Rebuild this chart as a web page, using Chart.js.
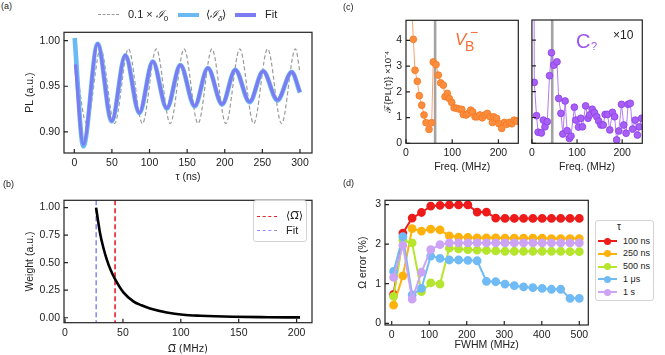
<!DOCTYPE html>
<html lang="en">
<head>
<meta charset="UTF-8">
<title>PL oscillations and spectra</title>
<script src="https://cdn.jsdelivr.net/npm/chart.js"></script>
<style>
    body { margin: 0; background: #fff; font-family: 'Liberation Sans', Arial, sans-serif; color: #222; }
    #fig { position: relative; width: 665px; height: 355px; overflow: hidden; }
    #fig canvas { position: absolute; }
    .txt { position: absolute; white-space: nowrap; line-height: 1; }
    .sw { position: absolute; height: 0; }
    .box { position: absolute; border: 1px solid #d4d4d4; border-radius: 3px; background: rgba(255,255,255,0.85); }
    .dot { position: absolute; width: 7px; height: 7px; border-radius: 50%; }
</style>
</head>
<body>
<div id="fig">
    <canvas id="chartA"></canvas>
    <canvas id="chartB"></canvas>
    <canvas id="chartC1"></canvas>
    <canvas id="chartC2"></canvas>
    <canvas id="chartD"></canvas>

    <!-- panel letters -->
    <div class="txt" style="left:1px;top:2px;font-size:9px">(a)</div>
    <div class="txt" style="left:3px;top:180px;font-size:9px">(b)</div>
    <div class="txt" style="left:343px;top:3px;font-size:9px">(c)</div>
    <div class="txt" style="left:343px;top:179px;font-size:9px">(d)</div>

    <!-- legend (a) -->
    <div class="sw" style="left:98px;top:14px;width:21px;border-top:1.4px dashed #9a9a9a"></div>
    <div class="txt" style="left:128px;top:9px;font-size:11px">0.1 × <i>ℐ</i><sub style="font-size:8px">0</sub></div>
    <div class="sw" style="left:178px;top:13px;width:21px;border-top:4px solid #69b9f4"></div>
    <div class="txt" style="left:206px;top:9px;font-size:11px">⟨<i>ℐ</i><sub style="font-size:8px"><i>δ</i></sub>⟩</div>
    <div class="sw" style="left:235px;top:13px;width:21px;border-top:4px solid #7d7bf2"></div>
    <div class="txt" style="left:265px;top:9px;font-size:11px">Fit</div>

    <!-- legend (b) -->
    <div class="box" style="left:253px;top:200px;width:52px;height:40px"></div>
    <div class="sw" style="left:257px;top:216px;width:20px;border-top:1.6px dashed #e8202a"></div>
    <div class="txt" style="left:286px;top:210px;font-size:11px;font-family:'DejaVu Sans'">⟨Ω&#773;⟩</div>
    <div class="sw" style="left:257px;top:230px;width:20px;border-top:1.6px dashed #8d8dfb"></div>
    <div class="txt" style="left:286px;top:225px;font-size:11px">Fit</div>

    <!-- labels (c) -->
    <div class="txt" style="left:455px;top:31px;font-size:17px;font-style:italic;color:#f2703a">V</div>
    <div class="txt" style="left:465px;top:39px;font-size:14px;color:#f2703a">B</div>
    <div class="txt" style="left:470px;top:25px;font-size:14px;color:#f2703a">−</div>
    <div class="txt" style="left:576px;top:31px;font-size:20px;color:#9d55ef">C</div>
    <div class="txt" style="left:591px;top:41px;font-size:11px;color:#9d55ef">?</div>
    <div class="txt" style="left:613px;top:29px;font-size:12px">×10</div>

    <!-- legend (d) -->
    <div class="box" style="left:595px;top:220px;width:57px;height:79px"></div>
    <div class="txt" style="left:617px;top:222px;font-size:10px">τ</div>
    <div id="legD"></div>
</div>

<script>
    // (a) PL versus tau: extrema
    const tauRef = [0, 16.5, 35, 53.5, 72, 90.5, 109, 127.5, 146, 164.5, 183, 201.5, 220, 238.5, 257, 275.5, 294, 300];
    const plRef = [0.990, 0.909, 0.991, 0.909, 0.991, 0.909, 0.991, 0.909, 0.991, 0.909, 0.991, 0.909, 0.991, 0.909, 0.991, 0.909, 0.991, 0.965];
    const tauAvg = [0.5, 12, 31, 49.7, 67.8, 86.5, 104.3, 123, 141, 160, 177.5, 196.5, 214, 233, 251, 270, 289, 300];
    const plAvg = [1.003, 0.884, 0.9965, 0.9115, 0.984, 0.9205, 0.977, 0.9255, 0.9732, 0.928, 0.970, 0.930, 0.968, 0.9325, 0.9665, 0.9345, 0.9655, 0.943];
    const tauFit = [1.5, 12, 31, 49.7, 67.8, 86.5, 104.3, 123, 141, 160, 177.5, 196.5, 214, 233, 251, 270, 289, 300];
    const plFit = [0.974, 0.886, 0.9965, 0.912, 0.984, 0.921, 0.977, 0.926, 0.9732, 0.9285, 0.970, 0.9305, 0.968, 0.933, 0.9665, 0.935, 0.9655, 0.9437];
    const tauTicks = [0, 50, 100, 150, 200, 250, 300];
    const plTicks = [0.90, 0.95, 1.00];

    // (b) weight versus mean Rabi frequency
    const omegaBar = [26.8, 28.5, 30.2, 33, 36, 39.5, 43.2, 50.4, 59, 66, 73.4, 87.8, 102, 117, 145, 175, 203];
    const weight = [1.0, 0.88, 0.77, 0.64, 0.53, 0.43, 0.35, 0.23, 0.149, 0.113, 0.084, 0.048, 0.027, 0.018, 0.009, 0.005, 0.003];
    const omegaMean = 43.2;
    const omegaFit = 26.9;
    const omegaTicks = [0, 50, 100, 150, 200];
    const weightTicks = [0, 0.25, 0.5, 0.75, 1.0];

    // (c) Fourier amplitude spectra
    const freqVb = [10.5, 15.9, 19.5, 24.5, 28.8, 34, 39, 43.3, 49.8, 55.6, 59, 65, 70, 75, 80.8, 84.4, 89.4, 93.7, 98.9, 104,
        109.7, 115.4, 120.6, 124, 130, 135, 140, 144.4, 149.4, 154, 160, 165, 171, 176, 182, 187, 190, 196, 201, 207,
        213, 218, 224, 229, 234, 240];
    const ampVb = [5.9, 4.04, 2.84, 2.41, 1.85, 1.48, 1.10, 0.80, 0.54, 0.80, 3.16, 3.06, 2.65, 2.35, 2.26, 1.81, 1.94, 1.74, 1.59, 1.38,
        1.36, 1.33, 1.32, 1.12, 1.10, 1.16, 1.29, 1.22, 1.03, 1.03, 1.10, 0.99, 1.10, 1.16, 1.03, 0.81, 1.03, 0.97, 0.76, 0.58,
        0.81, 0.74, 0.81, 0.76, 0.90, 0.86];
    const freqC = [0, 5.2, 10.2, 13.8, 21, 25.3, 29, 34, 39, 43.3, 48.5, 55.6, 59.3, 64.3, 68.6, 73.6, 78, 83, 86.6, 94,
        97.4, 103.2, 108.2, 112, 119, 124.2, 127.7, 133.5, 138.5, 143.7, 148, 153, 158, 162.3, 167.5, 172.5, 178.4, 183.3, 187.7, 192.6,
        198.5, 203.5, 208.7, 213, 218, 223, 228.8, 233.8, 238, 243];
    const ampC = [60, 2.36, 1.07, 0.43, 0.40, 0.90, 0.64, 0.84, 2.62, 3.51, 3.03, 3.16, 1.74, 1.16, 0.36, 1.64, 0.49, 0.19, 0.28, 1.40,
        0.90, 0.63, 0.97, 0.64, 1.45, 0.97, 1.10, 1.32, 1.19, 1.03, 0.86, 0.71, 0.71, 1.12, 1.12, 0.52, 1.20, 1.03, 0.13, 0.48,
        1.51, 0.71, 0.39, 1.51, 1.55, 0.55, 0.90, 0.32, 0.64, 0.97];
    const peakVb = 63;
    const peakC = 45;
    const freqTicks = [0, 100, 200];
    const ampTicks = [0, 1, 2, 3, 4];

    // (d) Omega error versus FWHM
    const fwhm = [5, 29.75, 54.5, 79.25, 104, 128.75, 153.5, 178.25, 203, 227.75, 252.5, 277.25, 302, 326.75, 351.5, 376.25, 401, 425.75, 450.5, 475.25, 500];
    const err100ns = [0.73, 2.28, 2.66, 2.80, 2.96, 2.98, 2.99, 2.99, 2.99, 2.81, 2.81, 2.66, 2.65, 2.65, 2.65, 2.65, 2.65, 2.65, 2.65, 2.65, 2.65];
    const err250ns = [0.46, 1.20, 2.39, 2.33, 2.38, 2.36, 2.21, 2.18, 2.17, 2.16, 2.16, 2.16, 2.15, 2.15, 2.15, 2.15, 2.15, 2.14, 2.14, 2.14, 2.14];
    const err500ns = [0.68, 2.10, 2.03, 0.80, 1.02, 0.99, 1.90, 1.88, 1.86, 1.85, 1.84, 1.83, 1.82, 1.82, 1.82, 1.82, 1.82, 1.82, 1.82, 1.81, 1.81];
    const err1us = [1.31, 2.19, 0.72, 0.88, 1.70, 1.64, 1.60, 1.60, 1.59, 1.58, 1.06, 1.05, 0.99, 0.95, 0.92, 0.90, 0.88, 0.86, 0.86, 0.63, 0.63];
    const err1s = [1.16, 1.97, 0.61, 1.29, 1.86, 1.99, 2.03, 2.03, 2.03, 2.03, 2.03, 2.03, 2.03, 2.03, 2.03, 2.03, 2.03, 2.03, 2.03, 2.03, 2.03];
    const tauLabels = ['100 ns', '250 ns', '500 ns', '1 μs', '1 s'];
    const tauColors = ['#ee1b1b', '#ffb20a', '#b6e52e', '#70bbf5', '#cda3f5'];
    const fwhmTicks = [0, 100, 200, 300, 400, 500];
    const errTicks = [0, 1, 2, 3];

    Chart.defaults.font.family = "'Liberation Sans', Arial, sans-serif";
    Chart.defaults.font.size = 10.5;
    Chart.defaults.color = '#222';
    Chart.defaults.animation = false;
    Chart.defaults.plugins.legend.display = false;
    Chart.defaults.plugins.tooltip.enabled = false;

    // box frame, inward ticks and vertical marker lines
    const framePlugin = {
        id: 'frame',
        beforeDatasetsDraw(chart, args, opts) {
            const { ctx, chartArea: a, scales } = chart;
            (opts.vlines || []).forEach(v => {
                const px = scales.x.getPixelForValue(v.x);
                ctx.save();
                ctx.beginPath();
                ctx.strokeStyle = v.color;
                ctx.lineWidth = v.width;
                ctx.setLineDash(v.dash || []);
                ctx.moveTo(px, a.top);
                ctx.lineTo(px, a.bottom);
                ctx.stroke();
                ctx.restore();
            });
        },
        afterDatasetsDraw(chart) {
            const { ctx, chartArea: a, scales } = chart;
            ctx.save();
            ctx.strokeStyle = '#222';
            ctx.lineWidth = 1.2;
            ctx.strokeRect(a.left, a.top, a.right - a.left, a.bottom - a.top);
            ctx.beginPath();
            scales.x.ticks.forEach((t, i) => {
                const px = scales.x.getPixelForTick(i);
                ctx.moveTo(px, a.bottom);
                ctx.lineTo(px, a.bottom - 4);
            });
            scales.y.ticks.forEach((t, i) => {
                const py = scales.y.getPixelForTick(i);
                ctx.moveTo(a.left, py);
                ctx.lineTo(a.left + 4, py);
            });
            ctx.stroke();
            ctx.restore();
        }
    };
    Chart.register(framePlugin);

    function pts(xs, ys) {
        return xs.map((x, i) => ({ x: x, y: ys[i] }));
    }

    function axis(min, max, ticks, fmt, title, titlePad, showLabels) {
        return {
            min: min,
            max: max,
            afterBuildTicks: s => { s.ticks = ticks.map(v => ({ value: v })); },
            grid: { display: false, drawTicks: false, tickLength: 0 },
            border: { display: false },
            ticks: { display: showLabels !== false, padding: 4, autoSkip: false, maxRotation: 0, callback: fmt || (v => v) },
            title: title ? { display: true, text: title.text, font: title.font, padding: titlePad } : { display: false }
        };
    }

    // box = canvas position, area = wanted plot rectangle in page pixels
    function makeChart(id, box, area, datasets, sx, sy, vlines) {
        const cv = document.getElementById(id);
        cv.width = box.w;
        cv.height = box.h;
        cv.style.left = box.x + 'px';
        cv.style.top = box.y + 'px';
        sx.type = 'linear';
        sy.type = 'linear';
        sx.afterFit = s => { s.height = box.y + box.h - area.b; };
        sy.afterFit = s => { s.width = area.l - box.x; };
        return new Chart(cv, {
            type: 'line',
            data: { datasets: datasets },
            options: {
                responsive: false,
                devicePixelRatio: 1,
                layout: { padding: { left: 0, bottom: 0, top: area.t - box.y, right: box.x + box.w - area.r } },
                plugins: { frame: { vlines: vlines || [] } },
                scales: { x: sx, y: sy }
            }
        });
    }

    const fix2 = v => v.toFixed(2);

    // (a)
    makeChart('chartA', { x: 0, y: 22, w: 330, h: 165 }, { l: 64, t: 28, r: 312, b: 153 }, [
        { data: pts(tauRef, plRef), borderColor: '#9a9a9a', borderWidth: 1.2, borderDash: [4, 2.5], pointRadius: 0, cubicInterpolationMode: 'monotone', order: 2 },
        { data: pts(tauAvg, plAvg), borderColor: '#69b9f4', borderWidth: 4.6, pointRadius: 0, cubicInterpolationMode: 'monotone', order: 1 },
        { data: pts(tauFit, plFit), borderColor: '#7d7bf2', borderWidth: 3.2, pointRadius: 0, cubicInterpolationMode: 'monotone', order: 0 }
    ],
        axis(-13.7, 316, tauTicks, null, { text: 'τ (ns)' }, { top: 0, bottom: 3.7 }),
        axis(0.8767, 1.0092, plTicks, fix2, { text: 'PL (a.u.)' }, { top: 23.7, bottom: 0 })
    );

    // (b)
    makeChart('chartB', { x: 0, y: 190, w: 330, h: 165 }, { l: 64, t: 198.3, r: 312, b: 322.7 }, [
        { data: pts(omegaBar, weight), borderColor: '#000', borderWidth: 2.6, pointRadius: 0, cubicInterpolationMode: 'monotone' }
    ],
        axis(-0.9, 213.3, omegaTicks, null, { text: 'Ω\u0305 (MHz)', font: { family: 'DejaVu Sans', size: 10 } }, { top: 0, bottom: 0 }),
        axis(-0.045, 1.066, weightTicks, fix2, { text: 'Weight (a.u.)' }, { top: 23.7, bottom: 0 }),
        [
            { x: omegaFit, color: '#8d8dfb', width: 1.6, dash: [5, 3] },
            { x: omegaMean, color: '#e8202a', width: 1.6, dash: [5, 3] }
        ]
    );

    // (c) left: V_B^- spectrum
    makeChart('chartC1', { x: 340, y: 10, w: 185, h: 168 }, { l: 406, t: 20, r: 518.3, b: 143.3 }, [
        { data: pts(freqVb, ampVb), borderColor: '#f9a36f', borderWidth: 1, pointRadius: 3.4,
          pointBackgroundColor: '#fb8d3d', pointBorderColor: '#f27a26', pointBorderWidth: 0.8 }
    ],
        axis(0, 243, freqTicks, null, { text: 'Freq. (MHz)' }, { top: 0, bottom: 4.3 }),
        axis(0, 4.78, ampTicks, null, { text: 'ℱ{PL(τ)} ×10⁻⁴', font: { size: 9.5 } }, { top: 42.6, bottom: 0 }),
        [{ x: peakVb, color: '#a3a3a3', width: 2.6 }]
    );

    // (c) right: unknown centre spectrum (x10)
    makeChart('chartC2', { x: 525, y: 10, w: 140, h: 168 }, { l: 529.3, t: 20, r: 642.3, b: 143.3 }, [
        { data: pts(freqC, ampC), borderColor: '#b47df0', borderWidth: 1, pointRadius: 3.4,
          pointBackgroundColor: '#a75ff5', pointBorderColor: '#8d40ea', pointBorderWidth: 0.8 }
    ],
        axis(0, 244.6, freqTicks, null, { text: 'Freq. (MHz)' }, { top: 0, bottom: 4.3 }),
        axis(0, 4.78, ampTicks, null, null, null, false),
        [{ x: peakC, color: '#a3a3a3', width: 2.6 }]
    );

    // (d)
    const errSeries = [err100ns, err250ns, err500ns, err1us, err1s];
    makeChart('chartD', { x: 340, y: 190, w: 255, h: 165 }, { l: 385, t: 200, r: 588.3, b: 325 },
        errSeries.map((ys, i) => ({
            data: pts(fwhm, ys),
            borderColor: tauColors[i],
            backgroundColor: tauColors[i],
            borderWidth: 2,
            pointRadius: 3.4,
            pointBackgroundColor: tauColors[i],
            pointBorderColor: tauColors[i],
            order: errSeries.length - 1 - i
        })),
        axis(-17.9, 524, fwhmTicks, null, { text: 'FWHM (MHz)' }, { top: 0, bottom: 3.7 }),
        axis(-0.043, 3.108, errTicks, null, { text: 'Ω error (%)' }, { top: 16.7, bottom: 0 })
    );

    // legend entries for (d)
    const legD = document.getElementById('legD');
    tauLabels.forEach((lab, i) => {
        const cy = 241 + i * 12.8;
        legD.insertAdjacentHTML('beforeend',
            '<div class="sw" style="left:598px;top:' + (cy - 1) + 'px;width:19px;border-top:2px solid ' + tauColors[i] + '"></div>' +
            '<div class="dot" style="left:604px;top:' + (cy - 3.5) + 'px;background:' + tauColors[i] + '"></div>' +
            '<div class="txt" style="left:623px;top:' + (cy - 4.5) + 'px;font-size:9px">' + lab + '</div>');
    });
</script>
</body>
</html>
